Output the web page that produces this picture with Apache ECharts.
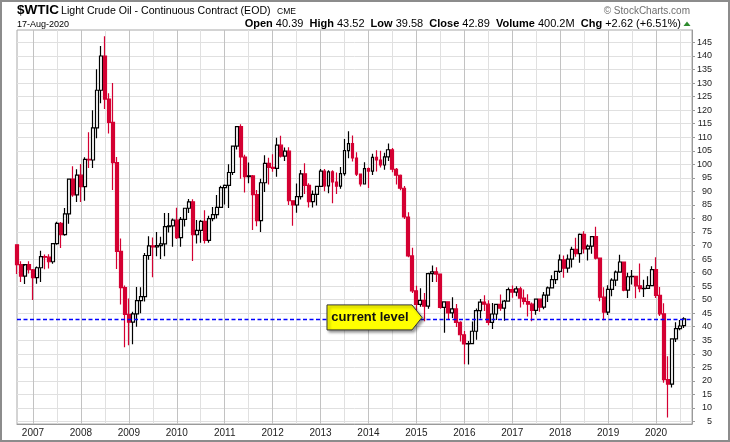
<!DOCTYPE html>
<html>
<head>
<meta charset="utf-8">
<script src="https://cdn.jsdelivr.net/npm/echarts@6/dist/echarts.min.js"></script>
<style>
html,body{margin:0;padding:0;background:#fff;}
#c{width:730px;height:442px;}
</style>
</head>
<body>
<div id="c"></div>
<script>
// Monthly bars, Sep 2006 .. Aug 2020
const startYear = 2006, startMonth = 9;
const open = [
  70.26, 62.91, 58.73, 62.97,
  61.05, 58.14, 61.79, 65.87, 65.71, 64.01, 70.68, 78.21, 74.04, 81.66, 94.53, 88.71,
  95.98, 91.75, 101.84, 101.58, 113.46, 127.35, 140.00, 124.08, 115.46, 100.64, 67.81, 54.43,
  44.60, 41.68, 44.76, 49.66, 51.12, 66.31, 69.89, 69.45, 69.96, 70.61, 77.00, 77.28,
  79.36, 72.89, 79.66, 83.76, 86.15, 73.97, 75.63, 78.95, 71.92, 79.97, 81.43, 84.11,
  91.38, 92.19, 96.97, 106.72, 113.93, 102.70, 95.42, 95.70, 88.81, 79.20, 93.19, 100.36,
  98.83, 98.48, 107.07, 103.02, 104.87, 86.53, 84.96, 88.06, 96.47, 92.19, 86.24, 88.91,
  91.82, 97.49, 92.05, 97.23, 93.46, 91.97, 96.56, 105.03, 107.65, 102.33, 96.38, 92.72,
  98.42, 97.49, 102.59, 101.58, 99.74, 102.71, 105.37, 98.17, 95.96, 91.16, 80.54, 66.15,
  53.27, 48.24, 49.76, 47.60, 59.63, 60.30, 59.47, 47.12, 49.20, 45.09, 46.59, 41.65,
  37.04, 33.62, 33.75, 38.34, 45.92, 49.10, 48.33, 41.60, 44.70, 48.24, 46.86, 49.44,
  53.72, 52.81, 54.01, 50.60, 49.33, 48.32, 46.04, 50.17, 47.23, 51.67, 54.38, 57.40,
  60.42, 64.73, 61.64, 64.94, 68.57, 67.04, 74.15, 68.76, 69.80, 73.25, 65.31, 50.93,
  45.41, 53.79, 57.22, 60.14, 63.91, 53.50, 58.47, 58.58, 55.10, 54.07, 54.18, 55.17,
  61.06, 51.56, 44.76, 20.48, 18.84, 35.49, 39.27, 40.39
];
const high = [
  70.39, 64.15, 62.50, 64.22,
  61.30, 62.26, 68.09, 66.67, 66.74, 70.90, 78.77, 78.67, 83.90, 94.74, 99.29, 98.18,
  100.09, 102.59, 111.80, 119.93, 135.09, 143.67, 147.27, 126.20, 130.00, 102.70, 72.55, 55.19,
  50.47, 45.50, 54.66, 54.58, 67.27, 73.38, 72.99, 75.00, 73.20, 82.00, 82.00, 80.00,
  83.95, 80.51, 83.85, 87.15, 87.09, 79.38, 79.46, 83.00, 81.00, 84.20, 88.63, 92.06,
  92.58, 99.97, 106.95, 113.99, 114.83, 103.50, 100.62, 96.00, 90.52, 94.65, 103.37, 102.44,
  103.74, 109.77, 110.55, 106.20, 106.25, 86.66, 92.94, 97.85, 100.42, 93.00, 90.33, 92.00,
  98.24, 98.24, 97.80, 97.80, 97.00, 99.00, 109.32, 112.24, 110.66, 104.44, 96.60, 100.75,
  98.86, 103.94, 105.22, 104.99, 104.30, 107.68, 106.00, 98.64, 96.20, 92.00, 82.29, 69.17,
  55.11, 54.24, 52.48, 59.90, 62.58, 61.98, 59.69, 49.35, 49.30, 50.92, 48.36, 42.00,
  38.39, 34.69, 41.90, 46.78, 50.21, 51.67, 49.80, 48.75, 48.36, 51.93, 49.87, 54.51,
  55.24, 54.94, 54.75, 53.76, 52.00, 49.00, 50.43, 50.22, 52.86, 54.85, 59.05, 60.51,
  66.66, 66.30, 66.66, 69.56, 72.90, 74.46, 75.27, 70.41, 73.42, 76.90, 65.43, 54.55,
  55.37, 57.88, 60.73, 66.60, 63.99, 59.93, 60.94, 58.76, 63.38, 57.36, 58.61, 62.34,
  65.65, 54.66, 48.66, 29.13, 35.60, 41.63, 42.52, 43.52
];
const low = [
  59.52, 56.55, 55.80, 59.62,
  49.90, 55.92, 56.50, 61.20, 61.52, 63.30, 70.30, 69.06, 73.60, 78.00, 88.01, 86.11,
  86.11, 86.50, 98.65, 98.65, 109.65, 122.58, 120.42, 111.34, 90.51, 61.30, 48.25, 32.40,
  33.20, 33.55, 40.04, 45.01, 49.32, 64.79, 58.32, 66.00, 65.05, 66.00, 74.81, 69.50,
  72.43, 69.50, 77.00, 82.00, 64.24, 70.76, 71.00, 70.76, 71.00, 79.00, 80.00, 84.00,
  85.11, 83.85, 96.00, 105.50, 94.63, 89.61, 93.00, 75.71, 77.11, 74.95, 89.80, 92.52,
  97.20, 95.44, 102.55, 101.20, 85.00, 77.28, 82.10, 87.00, 89.00, 84.05, 84.06, 84.80,
  91.80, 90.07, 89.33, 85.61, 89.00, 91.00, 95.74, 102.22, 101.00, 95.70, 91.77, 92.51,
  91.24, 96.00, 97.37, 98.85, 98.00, 101.18, 97.03, 92.50, 90.43, 79.78, 65.69, 52.44,
  43.58, 47.36, 42.03, 46.69, 56.51, 56.51, 46.68, 37.75, 42.58, 43.21, 39.93, 34.53,
  26.19, 26.05, 33.50, 35.24, 43.03, 45.83, 40.57, 39.19, 42.52, 45.88, 42.20, 49.40,
  50.71, 51.22, 47.09, 48.18, 43.76, 42.05, 44.40, 45.58, 46.47, 49.10, 54.19, 55.82,
  59.84, 58.07, 59.95, 61.84, 65.84, 63.59, 67.03, 64.43, 66.96, 64.86, 49.41, 42.36,
  44.35, 51.23, 55.05, 60.08, 53.07, 50.60, 55.58, 50.52, 52.77, 50.99, 54.14, 55.05,
  50.58, 44.00, 19.27, 6.50, 17.59, 34.36, 38.72, 39.58
];
const close = [
  62.91, 58.73, 62.97, 61.05,
  58.14, 61.79, 65.87, 65.71, 64.01, 70.68, 78.21, 74.04, 81.66, 94.53, 88.71, 95.98,
  91.75, 101.84, 101.58, 113.46, 127.35, 140.00, 124.08, 115.46, 100.64, 67.81, 54.43, 44.60,
  41.68, 44.76, 49.66, 51.12, 66.31, 69.89, 69.45, 69.96, 70.61, 77.00, 77.28, 79.36,
  72.89, 79.66, 83.76, 86.15, 73.97, 75.63, 78.95, 71.92, 79.97, 81.43, 84.11, 91.38,
  92.19, 96.97, 106.72, 113.93, 102.70, 95.42, 95.70, 88.81, 79.20, 93.19, 100.36, 98.83,
  98.48, 107.07, 103.02, 104.87, 86.53, 84.96, 88.06, 96.47, 92.19, 86.24, 88.91, 91.82,
  97.49, 92.05, 97.23, 93.46, 91.97, 96.56, 105.03, 107.65, 102.33, 96.38, 92.72, 98.42,
  97.49, 102.59, 101.58, 99.74, 102.71, 105.37, 98.17, 95.96, 91.16, 80.54, 66.15, 53.27,
  48.24, 49.76, 47.60, 59.63, 60.30, 59.47, 47.12, 49.20, 45.09, 46.59, 41.65, 37.04,
  33.62, 33.75, 38.34, 45.92, 49.10, 48.33, 41.60, 44.70, 48.24, 46.86, 49.44, 53.72,
  52.81, 54.01, 50.60, 49.33, 48.32, 46.04, 50.17, 47.23, 51.67, 54.38, 57.40, 60.42,
  64.73, 61.64, 64.94, 68.57, 67.04, 74.15, 68.76, 69.80, 73.25, 65.31, 50.93, 45.41,
  53.79, 57.22, 60.14, 63.91, 53.50, 58.47, 58.58, 55.10, 54.07, 54.18, 55.17, 61.06,
  51.56, 44.76, 20.48, 18.84, 35.49, 39.27, 40.27, 42.89
];
const yTicks = [5,10,15,20,25,30,35,40,45,50,55,60,65,70,75,80,85,90,95,100,105,110,115,120,125,130,135,140,145];
const headerStats = [
  ['Open', '40.39'], ['High', '43.52'], ['Low', '39.58'], ['Close', '42.89'],
  ['Volume', '400.2M'], ['Chg', '+2.62 (+6.51%)']
];
const currentLevel = 42.89;

// month categories (2 trailing empty slots)
const cats = [];
for (let k = 0; k < open.length + 2; k++) {
  const m = (startMonth - 1) + k;
  const y = startYear + Math.floor(m / 12);
  const mm = (m % 12) + 1;
  cats.push(y + '-' + String(mm).padStart(2, '0'));
}
const ohlc = open.map((o, i) => [o, close[i], low[i], high[i]]);

const F = '"Liberation Sans", Arial, sans-serif';
const chart = echarts.init(document.getElementById('c'));
chart.setOption({
  animation: false,
  backgroundColor: '#ffffff',
  grid: { left: 17, right: 38, top: 30, bottom: 18, show: true, borderColor: '#a8a8a8', borderWidth: 1 },
  xAxis: [{
    type: 'category', data: cats, boundaryGap: false,
    axisLine: { show: true, lineStyle: { color: '#9a9a9a' } },
    axisTick: { show: false },
    axisLabel: {
      interval: (i, v) => v.endsWith('-01'),
      formatter: v => v.slice(0, 4),
      fontFamily: F, fontSize: 10, color: '#222', margin: 4
    },
    splitLine: { show: true, interval: (i, v) => v.endsWith('-01'), lineStyle: { color: '#c2c2c2', width: 1 } }
  }, {
    type: 'category', data: cats, boundaryGap: false, position: 'top',
    axisLine: { show: false }, axisTick: { show: false }, axisLabel: { show: false },
    splitLine: { show: true, interval: (i, v) => v.endsWith('-07'), lineStyle: { color: '#e0e0e0', width: 1 } }
  }],
  yAxis: {
    type: 'value', position: 'right', min: 4.08, max: 149.6,
    axisLine: { show: true, lineStyle: { color: '#9a9a9a' } },
    axisTick: { show: true, length: 3, lineStyle: { color: '#9a9a9a' }, customValues: yTicks },
    axisLabel: { customValues: yTicks, fontFamily: F, fontSize: 9, color: '#222', align: 'right', margin: 20 },
    splitLine: { show: true, lineStyle: { color: '#e0e0e0', width: 1 } }
  },
  series: [{
    type: 'candlestick',
    data: ohlc,
    barWidth: 3.4,
    clip: true,
    itemStyle: {
      color: '#ffffff', color0: '#d40032',
      borderColor: '#000000', borderColor0: '#d40032', borderColorDoji: '#000000',
      borderWidth: 1.2
    },
    markLine: {
      silent: true, symbol: 'none', label: { show: false }, animation: false,
      lineStyle: { color: '#0000ff', width: 1.4, type: [4, 2.5], opacity: 1 },
      data: [{ yAxis: currentLevel }]
    }
  }]
});

const tipY = chart.convertToPixel({ yAxisIndex: 0 }, currentLevel) - 1.5;
let rich = '';
headerStats.forEach((p, i) => { rich += (i ? '  ' : '') + '{b|' + p[0] + '} ' + p[1]; });

chart.setOption({
  graphic: { elements: [
    { type: 'rect', z: 100, shape: { x: 1, y: 1, width: 728, height: 440 },
      style: { fill: 'none', stroke: '#8c8c8c', lineWidth: 2 } },
    { type: 'text', z: 100, x: 17, y: 10.6,
      style: { text: '$WTIC', font: 'bold 13.5px ' + F, fill: '#000', align: 'left', verticalAlign: 'middle', textAlign: 'left', textVerticalAlign: 'middle' } },
    { type: 'text', z: 100, x: 61, y: 11.2,
      style: { text: 'Light Crude Oil - Continuous Contract (EOD)', font: '10.6px ' + F, fill: '#000', align: 'left', verticalAlign: 'middle', textAlign: 'left', textVerticalAlign: 'middle' } },
    { type: 'text', z: 100, x: 277, y: 12,
      style: { text: 'CME', font: '8.5px ' + F, fill: '#000', align: 'left', verticalAlign: 'middle', textAlign: 'left', textVerticalAlign: 'middle' } },
    { type: 'text', z: 100, x: 17, y: 24.2,
      style: { text: '17-Aug-2020', font: '9px ' + F, fill: '#000', align: 'left', verticalAlign: 'middle', textAlign: 'left', textVerticalAlign: 'middle' } },
    { type: 'text', z: 100, x: 681, y: 23.6,
      style: { text: rich, font: '11px ' + F, fill: '#000', align: 'right', verticalAlign: 'middle', textAlign: 'right', textVerticalAlign: 'middle',
        rich: { b: { font: 'bold 11px ' + F, fill: '#000' } } } },
    { type: 'polygon', z: 100, shape: { points: [[683.5, 26], [690.5, 26], [687, 21.5]] }, style: { fill: '#2e8b2e' } },
    { type: 'text', z: 100, x: 690, y: 11.5,
      style: { text: '\u00A9 StockCharts.com', font: '10px ' + F, fill: '#6e6e6e', align: 'right', verticalAlign: 'middle', textAlign: 'right', textVerticalAlign: 'middle' } },
    { type: 'polygon', z: 110,
      shape: { points: [[327, tipY - 12.5], [412, tipY - 12.5], [422, tipY], [412, tipY + 12.5], [327, tipY + 12.5]] },
      style: { fill: '#ffff00', stroke: '#333', lineWidth: 1, shadowBlur: 3, shadowColor: 'rgba(0,0,0,0.4)', shadowOffsetX: 2, shadowOffsetY: 2 } },
    { type: 'text', z: 111, x: 370, y: tipY,
      style: { text: 'current level', font: 'bold 13px ' + F, fill: '#111', align: 'center', verticalAlign: 'middle', textAlign: 'center', textVerticalAlign: 'middle' } }
  ] }
});
</script>
</body>
</html>
